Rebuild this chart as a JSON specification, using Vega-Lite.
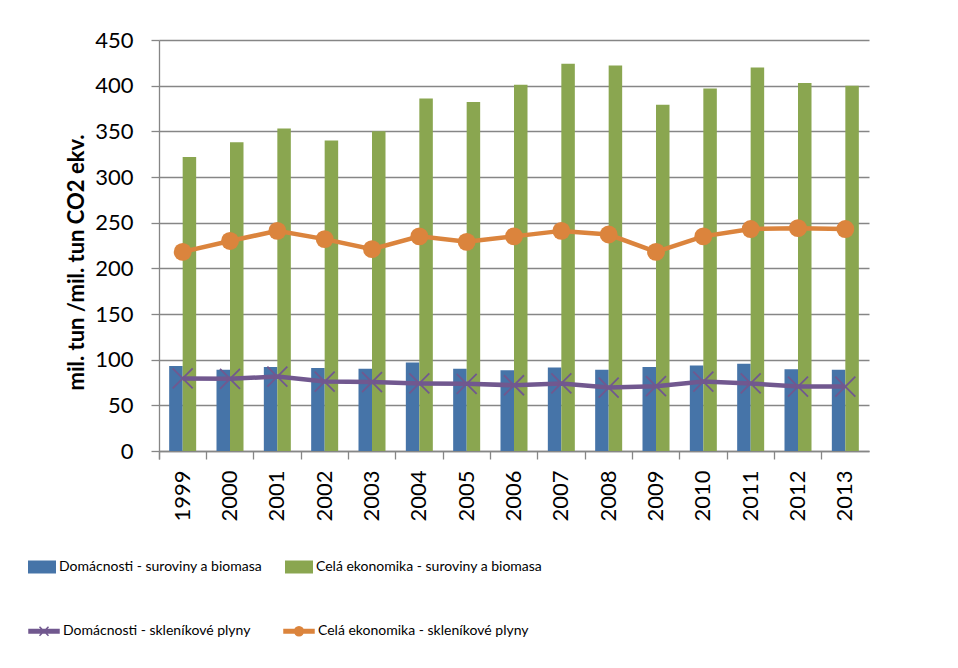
{
  "$schema": "https://vega.github.io/schema/vega-lite/v6.json",
  "width": 710,
  "height": 411,
  "autosize": {"type": "none"},
  "padding": {"left": 159, "top": 40, "right": 89, "bottom": 217},
  "background": "white",
  "config": {
    "font": "Lato",
    "view": {"stroke": null},
    "axis": {"labelColor": "black", "titleColor": "black", "labelFont": "Lato", "titleFont": "Lato"},
    "legend": {"labelColor": "black", "labelFont": "Lato", "labelLimit": 600}
  },
  "data": {
    "values": [
      {"year": "1999", "series": "Domácnosti - suroviny a biomasa", "value": 93},
      {"year": "2000", "series": "Domácnosti - suroviny a biomasa", "value": 89},
      {"year": "2001", "series": "Domácnosti - suroviny a biomasa", "value": 92},
      {"year": "2002", "series": "Domácnosti - suroviny a biomasa", "value": 91},
      {"year": "2003", "series": "Domácnosti - suroviny a biomasa", "value": 90},
      {"year": "2004", "series": "Domácnosti - suroviny a biomasa", "value": 97},
      {"year": "2005", "series": "Domácnosti - suroviny a biomasa", "value": 90},
      {"year": "2006", "series": "Domácnosti - suroviny a biomasa", "value": 88.5},
      {"year": "2007", "series": "Domácnosti - suroviny a biomasa", "value": 91.5},
      {"year": "2008", "series": "Domácnosti - suroviny a biomasa", "value": 89},
      {"year": "2009", "series": "Domácnosti - suroviny a biomasa", "value": 92},
      {"year": "2010", "series": "Domácnosti - suroviny a biomasa", "value": 93.5},
      {"year": "2011", "series": "Domácnosti - suroviny a biomasa", "value": 95.5},
      {"year": "2012", "series": "Domácnosti - suroviny a biomasa", "value": 89.5},
      {"year": "2013", "series": "Domácnosti - suroviny a biomasa", "value": 89},
      {"year": "1999", "series": "Celá ekonomika - suroviny a biomasa", "value": 322},
      {"year": "2000", "series": "Celá ekonomika - suroviny a biomasa", "value": 338},
      {"year": "2001", "series": "Celá ekonomika - suroviny a biomasa", "value": 353},
      {"year": "2002", "series": "Celá ekonomika - suroviny a biomasa", "value": 340},
      {"year": "2003", "series": "Celá ekonomika - suroviny a biomasa", "value": 350},
      {"year": "2004", "series": "Celá ekonomika - suroviny a biomasa", "value": 386},
      {"year": "2005", "series": "Celá ekonomika - suroviny a biomasa", "value": 382},
      {"year": "2006", "series": "Celá ekonomika - suroviny a biomasa", "value": 401},
      {"year": "2007", "series": "Celá ekonomika - suroviny a biomasa", "value": 424},
      {"year": "2008", "series": "Celá ekonomika - suroviny a biomasa", "value": 422},
      {"year": "2009", "series": "Celá ekonomika - suroviny a biomasa", "value": 379},
      {"year": "2010", "series": "Celá ekonomika - suroviny a biomasa", "value": 397},
      {"year": "2011", "series": "Celá ekonomika - suroviny a biomasa", "value": 420},
      {"year": "2012", "series": "Celá ekonomika - suroviny a biomasa", "value": 403},
      {"year": "2013", "series": "Celá ekonomika - suroviny a biomasa", "value": 400},
      {"year": "1999", "series": "Domácnosti - skleníkové plyny", "value": 79.5},
      {"year": "2000", "series": "Domácnosti - skleníkové plyny", "value": 79},
      {"year": "2001", "series": "Domácnosti - skleníkové plyny", "value": 81.5},
      {"year": "2002", "series": "Domácnosti - skleníkové plyny", "value": 76},
      {"year": "2003", "series": "Domácnosti - skleníkové plyny", "value": 75.5},
      {"year": "2004", "series": "Domácnosti - skleníkové plyny", "value": 74},
      {"year": "2005", "series": "Domácnosti - skleníkové plyny", "value": 73.5},
      {"year": "2006", "series": "Domácnosti - skleníkové plyny", "value": 72},
      {"year": "2007", "series": "Domácnosti - skleníkové plyny", "value": 74},
      {"year": "2008", "series": "Domácnosti - skleníkové plyny", "value": 69.5},
      {"year": "2009", "series": "Domácnosti - skleníkové plyny", "value": 71},
      {"year": "2010", "series": "Domácnosti - skleníkové plyny", "value": 76},
      {"year": "2011", "series": "Domácnosti - skleníkové plyny", "value": 74},
      {"year": "2012", "series": "Domácnosti - skleníkové plyny", "value": 70.5},
      {"year": "2013", "series": "Domácnosti - skleníkové plyny", "value": 70.5},
      {"year": "1999", "series": "Celá ekonomika - skleníkové plyny", "value": 218},
      {"year": "2000", "series": "Celá ekonomika - skleníkové plyny", "value": 230},
      {"year": "2001", "series": "Celá ekonomika - skleníkové plyny", "value": 241},
      {"year": "2002", "series": "Celá ekonomika - skleníkové plyny", "value": 232},
      {"year": "2003", "series": "Celá ekonomika - skleníkové plyny", "value": 221},
      {"year": "2004", "series": "Celá ekonomika - skleníkové plyny", "value": 235},
      {"year": "2005", "series": "Celá ekonomika - skleníkové plyny", "value": 229},
      {"year": "2006", "series": "Celá ekonomika - skleníkové plyny", "value": 235},
      {"year": "2007", "series": "Celá ekonomika - skleníkové plyny", "value": 241},
      {"year": "2008", "series": "Celá ekonomika - skleníkové plyny", "value": 237},
      {"year": "2009", "series": "Celá ekonomika - skleníkové plyny", "value": 218},
      {"year": "2010", "series": "Celá ekonomika - skleníkové plyny", "value": 235},
      {"year": "2011", "series": "Celá ekonomika - skleníkové plyny", "value": 243},
      {"year": "2012", "series": "Celá ekonomika - skleníkové plyny", "value": 244},
      {"year": "2013", "series": "Celá ekonomika - skleníkové plyny", "value": 243}
    ]
  },
  "layer": [
    {
      "transform": [{"filter": {"field": "series", "oneOf": ["Domácnosti - suroviny a biomasa", "Celá ekonomika - suroviny a biomasa"]}}],
      "mark": {"type": "bar"},
      "encoding": {
        "x": {
          "field": "year", "type": "nominal",
          "scale": {"type": "band", "paddingInner": 0, "paddingOuter": 0},
          "axis": {
            "title": null, "bandPosition": 0, "tickExtra": true, "tickSize": 8,
            "tickColor": "#868686", "domainColor": "#868686", "tickWidth": 1.3, "domainWidth": 1.3,
            "labelAngle": -90, "labelAlign": "right", "labelBaseline": "middle",
            "labelPadding": 11, "labelFontSize": 22, "grid": false
          }
        },
        "xOffset": {
          "field": "series", "type": "nominal",
          "scale": {"domain": ["Domácnosti - suroviny a biomasa", "Celá ekonomika - suroviny a biomasa"], "paddingInner": 0, "paddingOuter": 0.753}
        },
        "y": {
          "field": "value", "type": "quantitative",
          "scale": {"domain": [0, 450], "nice": false},
          "axis": {
            "title": "mil. tun /mil. tun CO2 ekv.",
            "values": [0, 50, 100, 150, 200, 250, 300, 350, 400, 450],
            "grid": true, "gridColor": "#868686", "gridWidth": 1.3,
            "tickSize": 8, "tickColor": "#868686", "tickWidth": 1.3,
            "domainColor": "#868686", "domainWidth": 1.3,
            "labelFontSize": 22, "labelPadding": 18,
            "titleFontSize": 22, "titleFontWeight": "bold",
            "titleAngle": -90, "titleX": -76, "titleY": 222,
            "titleAlign": "center", "titleBaseline": "alphabetic"
          }
        },
        "color": {
          "field": "series", "type": "nominal",
          "scale": {"domain": ["Domácnosti - suroviny a biomasa", "Celá ekonomika - suroviny a biomasa"], "range": ["#4674A8", "#8AA650"]},
          "legend": {
            "title": null, "orient": "none", "legendX": -131, "legendY": 513,
            "direction": "horizontal", "columns": 2, "columnPadding": 22, "padding": 0,
            "symbolType": "M-1,-0.464H1V0.464H-1Z", "symbolSize": 784, "symbolStrokeWidth": 0,
            "labelFontSize": 14, "labelOffset": 3, "symbolOpacity": 1
          }
        }
      }
    },
    {
      "transform": [{"filter": {"field": "series", "equal": "Domácnosti - skleníkové plyny"}}],
      "mark": {"type": "line", "color": "#71588F", "strokeWidth": 4.5},
      "encoding": {
        "x": {"field": "year", "type": "nominal"},
        "y": {"field": "value", "type": "quantitative"}
      }
    },
    {
      "transform": [{"filter": {"field": "series", "equal": "Celá ekonomika - skleníkové plyny"}}],
      "mark": {"type": "line", "color": "#DB843D", "strokeWidth": 4.5},
      "encoding": {
        "x": {"field": "year", "type": "nominal"},
        "y": {"field": "value", "type": "quantitative"}
      }
    },
    {
      "transform": [{"filter": {"field": "series", "equal": "Domácnosti - skleníkové plyny"}}],
      "mark": {"type": "point", "shape": "M-1,-1L1,1M-1,1L1,-1", "size": 400, "color": "#71588F", "strokeWidth": 1.8, "filled": false, "opacity": 1},
      "encoding": {
        "x": {"field": "year", "type": "nominal"},
        "y": {"field": "value", "type": "quantitative"}
      }
    },
    {
      "transform": [{"filter": {"field": "series", "equal": "Celá ekonomika - skleníkové plyny"}}],
      "mark": {"type": "point", "shape": "circle", "size": 320, "color": "#DB843D", "filled": true, "opacity": 1},
      "encoding": {
        "x": {"field": "year", "type": "nominal"},
        "y": {"field": "value", "type": "quantitative"}
      }
    },
    {
      "transform": [{"filter": {"field": "series", "oneOf": ["Domácnosti - skleníkové plyny", "Celá ekonomika - skleníkové plyny"]}}],
      "mark": {"type": "point", "filled": true, "opacity": 0},
      "encoding": {
        "x": {"field": "year", "type": "nominal"},
        "y": {"field": "value", "type": "quantitative"},
        "shape": {
          "field": "series", "type": "nominal",
          "scale": {"domain": ["Domácnosti - skleníkové plyny", "Celá ekonomika - skleníkové plyny"], "range": ["M-1,-0.12H1V0.12H-1ZM-0.3,-0.3L0.3,0.3M-0.3,0.3L0.3,-0.3", "M-1,-0.12H1V0.12H-1ZM0.3,0A0.3,0.3,0,1,1,-0.3,0A0.3,0.3,0,1,1,0.3,0Z"]},
          "legend": {
            "title": null, "orient": "none", "legendX": -131, "legendY": 575,
            "direction": "horizontal", "columns": 2, "columnPadding": 30, "padding": 0,
            "symbolSize": 900, "symbolStrokeWidth": 1.5, "symbolOpacity": 1,
            "labelFontSize": 14, "labelOffset": 3
          }
        },
        "fill": {
          "field": "series", "type": "nominal",
          "scale": {"domain": ["Domácnosti - skleníkové plyny", "Celá ekonomika - skleníkové plyny"], "range": ["#71588F", "#DB843D"]},
          "legend": {
            "title": null, "orient": "none", "legendX": -131, "legendY": 575,
            "direction": "horizontal", "columns": 2, "columnPadding": 30, "padding": 0,
            "symbolSize": 900, "symbolStrokeWidth": 1.5, "symbolOpacity": 1,
            "labelFontSize": 14, "labelOffset": 3
          }
        },
        "stroke": {
          "field": "series", "type": "nominal",
          "scale": {"domain": ["Domácnosti - skleníkové plyny", "Celá ekonomika - skleníkové plyny"], "range": ["#71588F", "#DB843D"]},
          "legend": {
            "title": null, "orient": "none", "legendX": -131, "legendY": 575,
            "direction": "horizontal", "columns": 2, "columnPadding": 30, "padding": 0,
            "symbolSize": 900, "symbolStrokeWidth": 1.5, "symbolOpacity": 1,
            "labelFontSize": 14, "labelOffset": 3
          }
        }
      }
    }
  ]
}
